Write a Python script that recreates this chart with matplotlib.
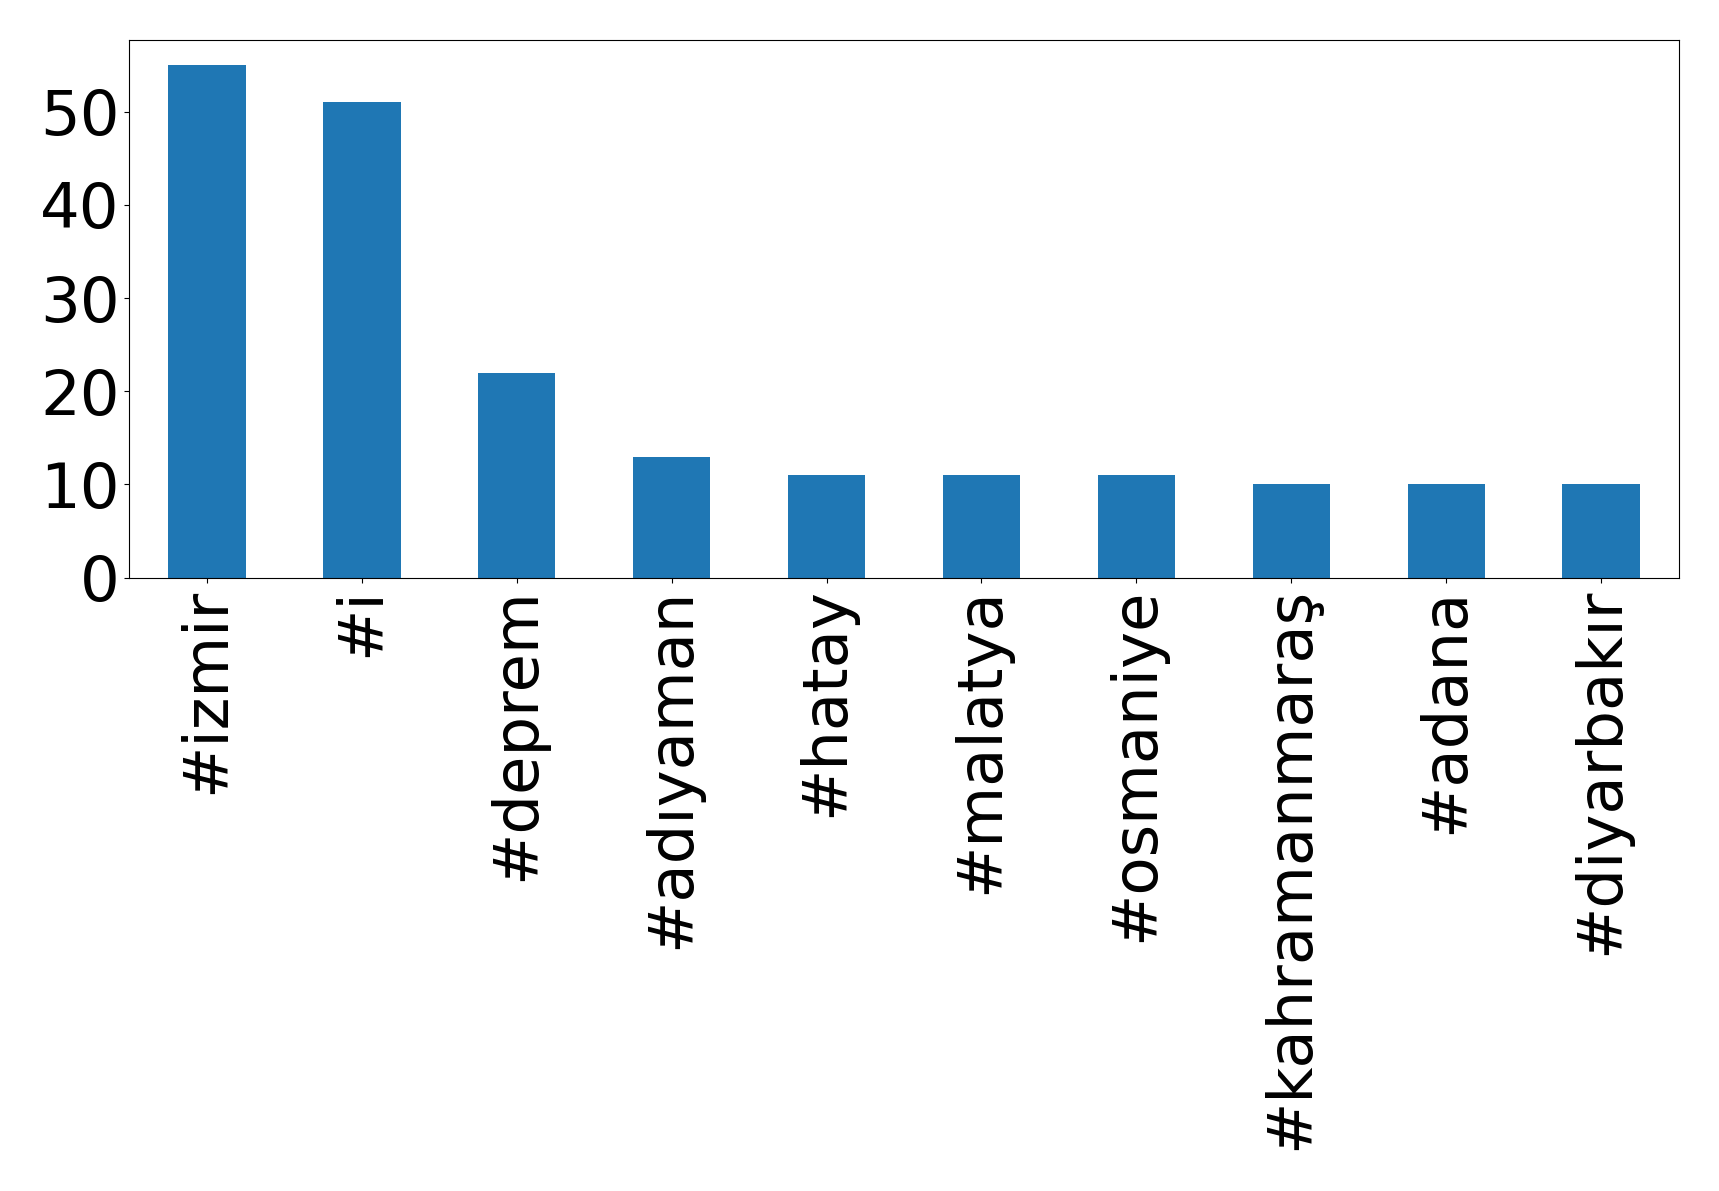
import matplotlib
matplotlib.use("Agg")
import matplotlib.pyplot as plt

categories = ["#izmir", "#i", "#deprem", "#adıyaman", "#hatay", "#malatya",
              "#osmaniye", "#kahramanmaraş", "#adana", "#diyarbakır"]
counts = [55, 51, 22, 13, 11, 11, 11, 10, 10, 10]

fig = plt.figure(figsize=(17.19, 11.91), dpi=100)
ax = fig.add_axes([0.0753, 0.515, 0.9012, 0.4518])
x = list(range(len(categories)))
ax.bar(x, counts, width=0.5, color="#1f77b4")
ax.set_xlim(-0.5, len(categories) - 0.5)
ax.set_ylim(0, max(counts) * 1.05)
ax.set_xticks(x)
ax.set_xticklabels(categories, rotation=90, fontsize=45)
ax.set_yticks([0, 10, 20, 30, 40, 50])
ax.tick_params(axis="y", labelsize=45)
fig.savefig("out.png", dpi=100)
